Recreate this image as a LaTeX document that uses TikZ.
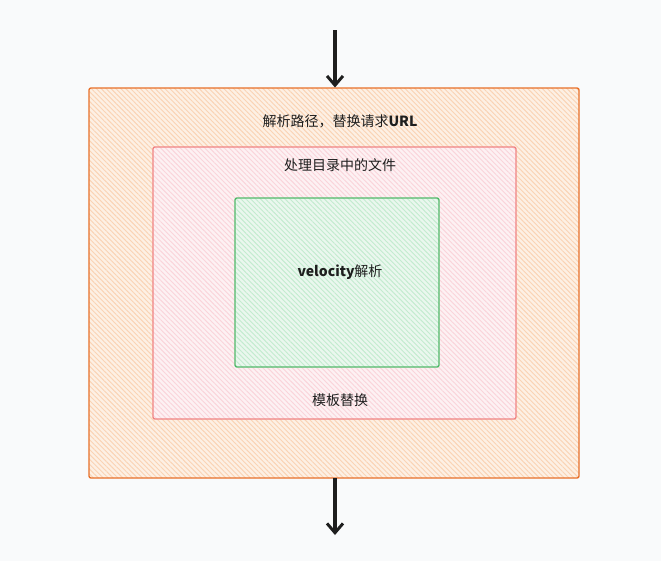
\documentclass[tikz,border=0pt]{standalone}
\usepackage{fontspec}
\setmainfont{Noto Sans CJK SC}
\usetikzlibrary{arrows.meta, patterns.meta}
\definecolor{bgcol}{HTML}{F9FAFB}
\definecolor{orangeline}{HTML}{E8702A}
\definecolor{orangefill}{HTML}{FDF0E4}
\definecolor{orangehatch}{HTML}{FAD3B4}
\definecolor{redline}{HTML}{F08484}
\definecolor{redfill}{HTML}{FDF1F3}
\definecolor{redhatch}{HTML}{FAD4DA}
\definecolor{greenline}{HTML}{52B96A}
\definecolor{greenfill}{HTML}{EAF7EE}
\definecolor{greenhatch}{HTML}{C3EBCF}
\definecolor{inkcol}{HTML}{1E1E1E}
\tikzset{
  box/.style={draw, line width=1pt, rounded corners=1.5pt, inner sep=0pt},
  hatch/.style={preaction={fill=#1fill},
    pattern={Lines[angle=-45, distance=2.6pt, line width=0.7pt]}, pattern color=#1hatch},
  outerbox/.style={box, draw=orangeline, hatch=orange},
  midbox/.style={box, draw=redline, hatch=red},
  innerbox/.style={box, draw=greenline, hatch=green},
  lbl/.style={font=\fontsize{10.5pt}{12pt}\selectfont, text=inkcol, inner sep=0pt},
  flow/.style={draw=inkcol, line width=2.6pt, -{Straight Barb[length=7pt, width=12pt, line width=2.2pt]}},
}
\begin{document}
\begin{tikzpicture}[x=0.75pt, y=-0.75pt]
        \fill[bgcol] (0, 0) rectangle (661, 561);
        \useasboundingbox (0, 0) rectangle (661, 561);
        \node[outerbox, minimum width=367.5pt, minimum height=292.5pt] (outer) at (334, 283) {};
        \node[midbox, minimum width=272.25pt, minimum height=204pt] (mid) at (334.5, 283) {};
        \node[innerbox, minimum width=153pt, minimum height=126.75pt] (inner) at (337, 282.5) {};
        \node[lbl] (parse) at (340, 121) {解析路径，替换请求\textbf{URL}};
        \node[lbl] (files) at (340, 165) {处理目录中的文件};
        \node[lbl] (velo) at (340, 272) {\textbf{velocity}解析};
        \node[lbl] (tpl) at (340, 400) {模板替换};
        \coordinate (in) at (335, 30);
        \coordinate (out) at (335, 535);
        \draw[flow] (in) -- (in |- outer.north);
        \draw[flow] (in |- outer.south) -- (out);
\end{tikzpicture}
\end{document}
